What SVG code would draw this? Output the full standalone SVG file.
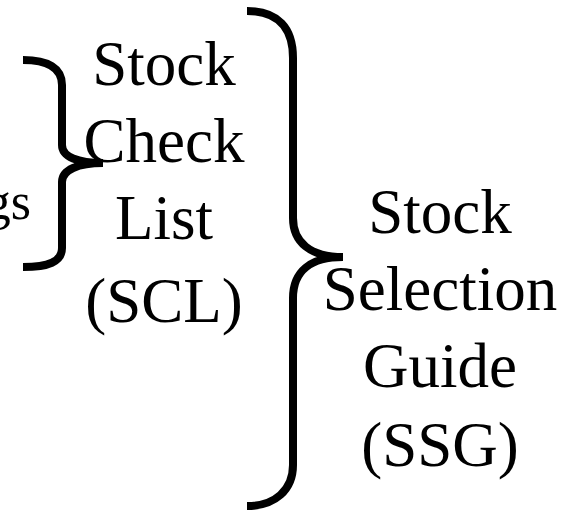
<svg xmlns="http://www.w3.org/2000/svg" width="570" height="512" viewBox="0 0 570 512">
<style>
.t{font-family:"Liberation Serif","Times New Roman",serif;font-size:63px;fill:#000;text-anchor:middle}
.b{fill:none;stroke:#000;stroke-width:8;stroke-linecap:butt;stroke-linejoin:miter}
</style>
<rect width="570" height="512" fill="#fff"/>
<g id="connectors">
<path class="b" d="M23,60 C48,60 62,68 62,85 L62,145 C62,157 78,163 103,163 C78,163 62,170 62,182 L62,248 C62,262 48,267 23,267"/>
<path class="b" d="M247,11 C278,11 293,28 293,58 L293,218 C293,242 310,257 343,257 C310,257 293,272 293,298 L293,465 C293,490 275,506 247,506"/>
</g>
<g id="ratings"><text x="31" y="219" style="font-family:'Liberation Serif','Times New Roman',serif;font-size:52px;text-anchor:end">gs</text></g>
<g id="scl">
<text class="t" x="164" y="85">Stock</text>
<text class="t" x="164" y="162">Check</text>
<text class="t" x="164" y="239">List</text>
<text class="t" x="164" y="322">(SCL)</text>
</g>
<g id="ssg">
<text class="t" x="440" y="233">Stock</text>
<text class="t" x="440" y="310">Selection</text>
<text class="t" x="440" y="387">Guide</text>
<text class="t" x="440" y="466">(SSG)</text>
</g>
</svg>
